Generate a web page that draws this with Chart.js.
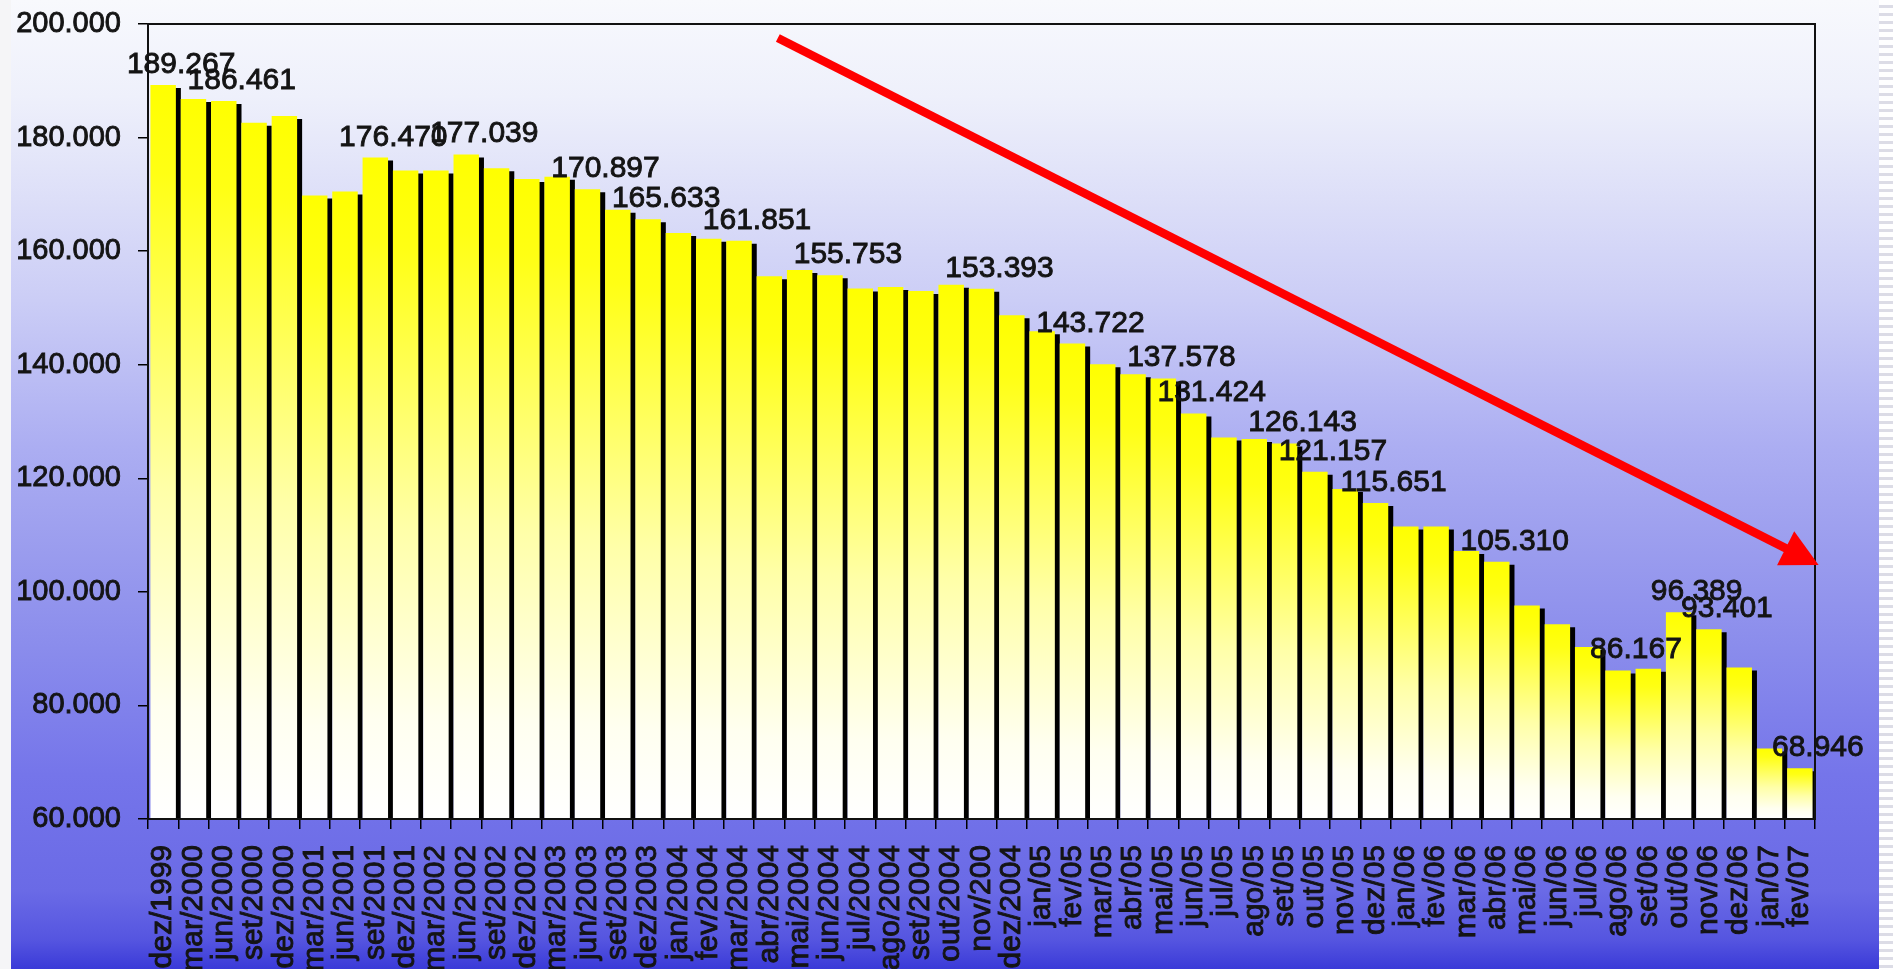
<!DOCTYPE html>
<html lang="pt-BR">
<head>
<meta charset="utf-8">
<title>Evolução mensal</title>
<script src="https://cdn.jsdelivr.net/npm/chart.js@4.4.1/dist/chart.umd.min.js"></script>
<style>
  html, body { margin: 0; padding: 0; }
  body {
    width: 1893px; height: 969px; overflow: hidden; position: relative;
    background: linear-gradient(to bottom, #f8f9fd 0%, #eef0fb 10%, #dcdef8 21%, #cbcdf6 31%, #acaef2 46%,
      #9a9cee 57%, #8a8cec 67%, #7575ea 80%, #6a6ae6 92%, #5555e0 97%, #3a3ad8 100%);
  }
  #margem { position: absolute; left: 0; top: 0; width: 11px; height: 969px; background: #f5f5f7; }
  #listras {
    position: absolute; right: 0; top: 0; width: 14px; height: 969px;
    background: repeating-linear-gradient(to bottom, #ffffff 0px, #ffffff 5px, #dcdce6 5px, #dcdce6 8px);
  }
  canvas { position: absolute; left: 0; top: 0; }
</style>
</head>
<body>
<div id="margem"></div>
<div id="listras"></div>
<canvas id="grafico" width="1893" height="969"></canvas>
<script>
// Meses (rótulos do eixo X)
const meses = [
  "dez/1999", "mar/2000", "jun/2000", "set/2000", "dez/2000",
  "mar/2001", "jun/2001", "set/2001", "dez/2001",
  "mar/2002", "jun/2002", "set/2002", "dez/2002",
  "mar/2003", "jun/2003", "set/2003", "dez/2003",
  "jan/2004", "fev/2004", "mar/2004", "abr/2004", "mai/2004", "jun/2004",
  "jul/2004", "ago/2004", "set/2004", "out/2004", "nov/200", "dez/2004",
  "jan/05", "fev/05", "mar/05", "abr/05", "mai/05", "jun/05",
  "jul/05", "ago/05", "set/05", "out/05", "nov/05", "dez/05",
  "jan/06", "fev/06", "mar/06", "abr/06", "mai/06", "jun/06",
  "jul/06", "ago/06", "set/06", "out/06", "nov/06", "dez/06",
  "jan/07", "fev/07"
];

// Valores de cada mês
const valores = [
  189267, 186800, 186461, 182600, 183800,
  169800, 170500, 176470, 174200,
  174200, 177039, 174600, 172700,
  173100, 170897, 167300, 165633,
  163200, 162200, 161851, 155600, 156700, 155753,
  153400, 153700, 153000, 154100, 153393, 148700,
  145900, 143722, 140100, 138300, 137578, 131424,
  127200, 126900, 126143, 121157, 118100, 115651,
  111500, 111500, 107200, 105310, 97600, 94300,
  90300, 86167, 86450, 96389, 93401, 86700,
  72400, 68946
];

// Índices dos meses que mostram o valor
const rotulados = [0, 2, 7, 10, 14, 16, 19, 22, 27, 30, 33, 34, 37, 38, 40, 44, 48, 50, 51, 54];

// Eixo Y
const eixoMin = 60000;
const eixoMax = 200000;
const eixoPasso = 20000;

// Seta de tendência (índice do mês, valor)
const setaInicio = [20.28, 197535];
const setaFim = [54.62, 104737];

const fonte = '"Liberation Sans", Arial, sans-serif';
const corTexto = "#141414";
const formata = (v) => String(v).replace(/\B(?=(\d{3})+(?!\d))/g, ".");

function corBarra(ctx) {
  const chart = ctx.chart;
  const area = chart.chartArea;
  if (!area || ctx.type !== "data") return "#ffff00";
  const topo = chart.scales.y.getPixelForValue(ctx.raw);
  const g = chart.ctx.createLinearGradient(0, topo, 0, area.bottom);
  g.addColorStop(0, "#ffff00");
  g.addColorStop(0.12, "#ffff14");
  g.addColorStop(0.55, "#ffffa8");
  g.addColorStop(0.85, "#fffff0");
  g.addColorStop(1, "#ffffff");
  return g;
}

// Sombra preta das barras
const sombra = {
  id: "sombra",
  beforeDatasetsDraw(chart) {
    const c = chart.ctx;
    c.save();
    c.shadowColor = "#000";
    c.shadowOffsetX = 5;
    c.shadowOffsetY = 3;
    c.shadowBlur = 0;
  },
  afterDatasetsDraw(chart) {
    chart.ctx.restore();
  }
};

// Moldura da área do gráfico
const moldura = {
  id: "moldura",
  afterDatasetsDraw(chart) {
    const a = chart.chartArea;
    const c = chart.ctx;
    c.save();
    c.strokeStyle = "#111";
    c.lineWidth = 2;
    c.strokeRect(a.left, a.top, a.right - a.left, a.bottom - a.top);
    c.restore();
  }
};

// Valores escritos sobre algumas barras
const rotulos = {
  id: "rotulos",
  afterDraw(chart) {
    const c = chart.ctx;
    const meta = chart.getDatasetMeta(0);
    c.save();
    c.font = "30px " + fonte;
    c.fillStyle = corTexto;
    c.strokeStyle = corTexto;
    c.lineWidth = 0.9;
    c.textAlign = "center";
    c.textBaseline = "alphabetic";
    rotulados.forEach((i) => {
      const b = meta.data[i];
      const t = formata(valores[i]);
      c.fillText(t, b.x + 18, b.y - 12);
      c.strokeText(t, b.x + 18, b.y - 12);
    });
    c.restore();
  }
};

// Seta vermelha
const seta = {
  id: "seta",
  afterDraw(chart) {
    const { x, y } = chart.scales;
    const c = chart.ctx;
    const x0 = x.getPixelForValue(setaInicio[0]), y0 = y.getPixelForValue(setaInicio[1]);
    const x1 = x.getPixelForValue(setaFim[0]), y1 = y.getPixelForValue(setaFim[1]);
    const len = Math.hypot(x1 - x0, y1 - y0);
    const dx = (x1 - x0) / len, dy = (y1 - y0) / len;
    const L = 37, w = 19;
    const bx = x1 - dx * L, by = y1 - dy * L;
    c.save();
    c.strokeStyle = "#ff0000";
    c.fillStyle = "#ff0000";
    c.lineWidth = 8.5;
    c.beginPath();
    c.moveTo(x0, y0);
    c.lineTo(bx + dx * 2, by + dy * 2);
    c.stroke();
    c.beginPath();
    c.moveTo(x1, y1);
    c.lineTo(bx - dy * w, by + dx * w);
    c.lineTo(bx + dy * w, by - dx * w);
    c.closePath();
    c.fill();
    c.restore();
  }
};

new Chart(document.getElementById("grafico"), {
  type: "bar",
  data: {
    labels: meses,
    datasets: [{
      data: valores,
      backgroundColor: corBarra,
      borderWidth: 0,
      barPercentage: 0.84,
      categoryPercentage: 1
    }]
  },
  options: {
    responsive: false,
    animation: false,
    devicePixelRatio: 1,
    layout: { padding: { left: 0, top: 24, right: 78, bottom: 0 } },
    plugins: { legend: { display: false }, tooltip: { enabled: false } },
    scales: {
      x: {
        offset: true,
        border: { display: false },
        grid: { display: true, drawOnChartArea: false, offset: true, tickLength: 10, color: "#000", lineWidth: 1.5 },
        ticks: {
          autoSkip: false, maxRotation: 90, minRotation: 90, padding: 16,
          color: corTexto, textStrokeColor: corTexto, textStrokeWidth: 0.9,
          font: { family: fonte, size: 30 }
        },
        afterFit(s) { s.height = 150; s.paddingLeft = 0; s.paddingRight = 0; }
      },
      y: {
        min: eixoMin,
        max: eixoMax,
        border: { display: false },
        grid: { display: true, drawOnChartArea: false, tickLength: 10, color: "#000", lineWidth: 1.5 },
        ticks: {
          stepSize: eixoPasso, padding: 17,
          color: corTexto, textStrokeColor: corTexto, textStrokeWidth: 0.9,
          font: { family: fonte, size: 29 },
          callback: (v) => formata(v)
        },
        afterFit(s) { s.width = 148; s.paddingTop = 0; s.paddingBottom = 0; }
      }
    }
  },
  plugins: [sombra, moldura, rotulos, seta]
});
</script>
</body>
</html>
